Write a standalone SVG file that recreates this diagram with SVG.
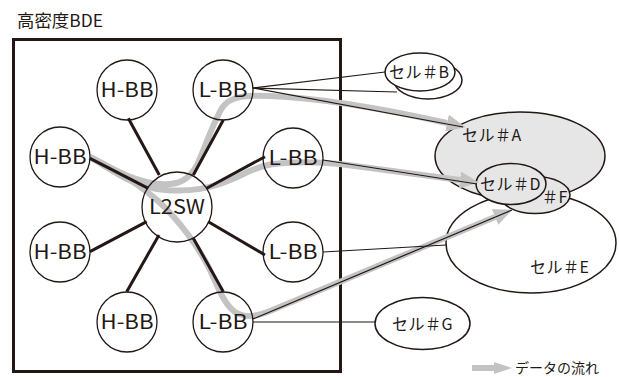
<svg xmlns="http://www.w3.org/2000/svg" width="619" height="377" viewBox="0 0 619 377">
<style>
text{font-family:"Noto Sans CJK JP","Noto Sans",sans-serif;fill:#231815}
.nd{fill:none;stroke:#231815;stroke-width:1.3}
.nt{font-size:20px;text-anchor:middle}
.cell{stroke:#231815;stroke-width:1.5}
.ct{font-size:16px;letter-spacing:0.5px}
.spoke{stroke:#231815;stroke-width:3;fill:none}
.thin{stroke:#231815;stroke-width:1.2;fill:none}
.flow{stroke:#c3c3c3;stroke-width:6;fill:none;marker-end:url(#ah)}
</style>
<defs>
<marker id="ah" markerUnits="userSpaceOnUse" markerWidth="19" markerHeight="17" refX="0" refY="8.5" orient="auto" viewBox="0 0 19 17"><path d="M0,0 L19,8.5 L0,17 z" fill="#c3c3c3"/></marker>
</defs>
<rect width="619" height="377" fill="#fff"/>
<text x="17" y="26.5" style="font-size:17px" textLength="86" lengthAdjust="spacingAndGlyphs">高密度BDE</text>
<rect x="13.5" y="39.5" width="327" height="332" fill="none" stroke="#231815" stroke-width="3"/>

<g id="cellE"><ellipse class="cell" cx="531" cy="243" rx="85" ry="50" fill="#fff"/><text class="ct" x="530" y="273">セル＃E</text></g>
<g id="cellA"><ellipse class="cell" cx="520" cy="156" rx="85" ry="44" fill="#e6e6e6"/><text class="ct" x="462" y="141">セル＃A</text></g>
<g id="cellF"><ellipse class="cell" cx="535" cy="195" rx="35" ry="18.5" fill="#e6e6e6"/><text class="ct" x="542" y="203">＃F</text></g>
<g id="cellD"><ellipse class="cell" cx="511" cy="184" rx="35" ry="20.5" fill="#e6e6e6"/><text class="ct" x="480" y="190">セル＃D</text></g>
<g id="cellB"><ellipse class="cell" cx="428" cy="80" rx="34" ry="19" fill="#fff"/><ellipse class="cell" cx="420" cy="72" rx="35" ry="19" fill="#fff"/><text class="ct" x="389" y="78">セル＃B</text></g>
<g id="cellG"><ellipse class="cell" cx="422.5" cy="323.5" rx="47.5" ry="26" fill="#fff"/><text class="ct" x="392" y="330">セル＃G</text></g>

<g id="connectors">
<path class="flow" d="M90,157 C115,170 135,182 160,184 C180,186 190,178 197,165 C205,148 212,125 222,108 C230,96 245,95 270,96 C320,98 380,108 447,123"/>
<path class="flow" d="M90,157 C115,172 135,188 165,190 C190,192 210,189 235,178 C252,170 262,164 285,163 C300,162 320,162 340,164 L460,180"/>
<path class="flow" d="M90,157 C120,172 150,190 172,215 C190,235 200,250 210,270 C220,292 225,305 235,312 C245,318 255,317 270,311 L495,217"/>
<line class="spoke" x1="128.3" y1="118.3" x2="159.3" y2="175"/>
<line class="spoke" x1="223.3" y1="120" x2="193.3" y2="175"/>
<line class="spoke" x1="90" y1="158.3" x2="148.3" y2="188.3"/>
<line class="spoke" x1="265" y1="156.7" x2="206.7" y2="188.3"/>
<line class="spoke" x1="90" y1="251.7" x2="146.7" y2="221.7"/>
<line class="spoke" x1="208.3" y1="221.7" x2="265" y2="255"/>
<line class="spoke" x1="159" y1="235" x2="126.7" y2="291.7"/>
<line class="spoke" x1="193.3" y1="238.3" x2="223.3" y2="291.7"/>
<line class="thin" x1="253" y1="88" x2="385" y2="72"/>
<line class="thin" x1="253" y1="88" x2="397" y2="92"/>
<line class="thin" x1="253" y1="88" x2="463" y2="127"/>
<line class="thin" x1="323" y1="160" x2="477" y2="184"/>
<line class="thin" x1="323" y1="252" x2="446" y2="245"/>
<line class="thin" x1="253" y1="322" x2="375" y2="322"/>
<line class="thin" x1="253" y1="319" x2="512" y2="210"/>
</g>

<g id="hbb1"><circle class="nd" cx="127" cy="90" r="30"/><text class="nt" x="127" y="97" textLength="53" lengthAdjust="spacingAndGlyphs">H-BB</text></g>
<g id="lbb1"><circle class="nd" cx="223" cy="90" r="30"/><text class="nt" x="223" y="97" textLength="49" lengthAdjust="spacingAndGlyphs">L-BB</text></g>
<g id="hbb2"><circle class="nd" cx="60" cy="157" r="30"/><text class="nt" x="60" y="164" textLength="53" lengthAdjust="spacingAndGlyphs">H-BB</text></g>
<g id="lbb2"><circle class="nd" cx="293" cy="158" r="30"/><text class="nt" x="293" y="165" textLength="49" lengthAdjust="spacingAndGlyphs">L-BB</text></g>
<g id="l2sw"><circle class="nd" cx="177" cy="207" r="35"/><text class="nt" x="177" y="214" textLength="56" lengthAdjust="spacingAndGlyphs">L2SW</text></g>
<g id="hbb3"><circle class="nd" cx="60" cy="252" r="30"/><text class="nt" x="60" y="259" textLength="53" lengthAdjust="spacingAndGlyphs">H-BB</text></g>
<g id="lbb3"><circle class="nd" cx="293" cy="252" r="30"/><text class="nt" x="293" y="259" textLength="49" lengthAdjust="spacingAndGlyphs">L-BB</text></g>
<g id="hbb4"><circle class="nd" cx="127" cy="322" r="30"/><text class="nt" x="127" y="329" textLength="53" lengthAdjust="spacingAndGlyphs">H-BB</text></g>
<g id="lbb4"><circle class="nd" cx="223" cy="322" r="30"/><text class="nt" x="223" y="329" textLength="49" lengthAdjust="spacingAndGlyphs">L-BB</text></g>

<g id="legend">
<path d="M472,365 L494,365 L494,362 L512,368 L494,374 L494,371 L472,371 z" fill="#c3c3c3"/>
<text x="515" y="373" style="font-size:14px">データの流れ</text>
</g>
</svg>
